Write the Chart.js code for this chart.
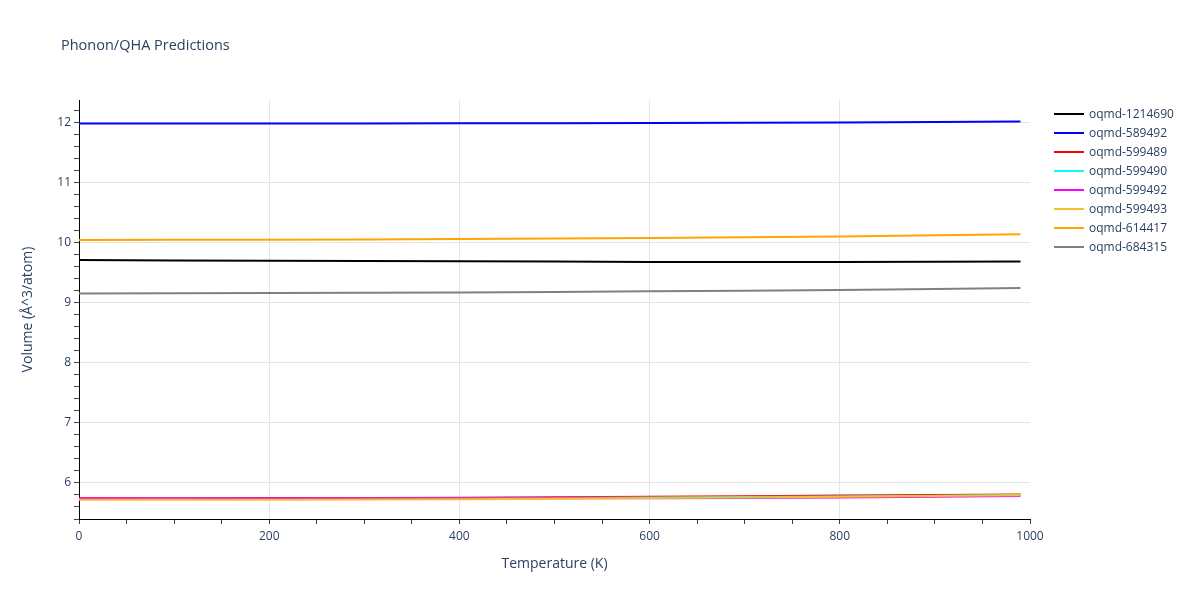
<!DOCTYPE html>
<html>
<head>
<meta charset="utf-8">
<script src="https://cdn.jsdelivr.net/npm/chart.js@4.4.0/dist/chart.umd.min.js"></script>
<style>
  html, body { margin: 0; padding: 0; background: #fff; }
  #wrap { position: relative; width: 1200px; height: 600px; font-family: "Open Sans", "DejaVu Sans", sans-serif; }
  #title { position: absolute; left: 61px; top: 35px; font-size: 14.5px; color: #2a3f5f; white-space: nowrap; }
  #legend { position: absolute; left: 1054px; top: 104px; }
  .item { height: 19px; display: flex; align-items: center; font-size: 12px; color: #2a3f5f; white-space: nowrap; }
  .sw { width: 30px; height: 2px; margin-right: 5px; }
  canvas { position: absolute; left: 0; top: 0; }
</style>
</head>
<body>
<div id="wrap">
  <canvas id="c" width="1200" height="600"></canvas>
  <div id="title">Phonon/QHA Predictions</div>
  <div id="legend"></div>
</div>
<script>
const temperatures = [0, 100, 200, 300, 400, 500, 600, 700, 800, 900, 990];
const seriesNames = ["oqmd-1214690", "oqmd-589492", "oqmd-599489", "oqmd-599490", "oqmd-599492", "oqmd-599493", "oqmd-614417", "oqmd-684315"];
const seriesColors = ["#000000", "#0000ff", "#ff0000", "#00ffff", "#ff00ff", "#f2c12e", "#ffa500", "#808080"];
const v1214690 = [9.715, 9.71, 9.705, 9.70, 9.695, 9.69, 9.685, 9.685, 9.685, 9.688, 9.69];
const v589492  = [11.99, 11.99, 11.992, 11.993, 11.995, 11.997, 12.0, 12.003, 12.01, 12.017, 12.025];
const v599489  = [5.745, 5.746, 5.748, 5.751, 5.755, 5.762, 5.77, 5.78, 5.79, 5.80, 5.81];
const v599490  = [5.735, 5.736, 5.737, 5.739, 5.743, 5.749, 5.757, 5.766, 5.776, 5.787, 5.799];
const v599492  = [5.74, 5.74, 5.741, 5.742, 5.743, 5.744, 5.746, 5.752, 5.76, 5.772, 5.785];
const v599493  = [5.72, 5.721, 5.722, 5.725, 5.73, 5.738, 5.748, 5.758, 5.77, 5.782, 5.795];
const v614417  = [10.05, 10.052, 10.055, 10.058, 10.065, 10.075, 10.085, 10.095, 10.11, 10.128, 10.145];
const v684315  = [9.16, 9.162, 9.165, 9.17, 9.175, 9.185, 9.195, 9.205, 9.218, 9.234, 9.25];
const seriesValues = [v1214690, v589492, v599489, v599490, v599492, v599493, v614417, v684315];
const xTickLabels = [0, 200, 400, 600, 800, 1000];
const yTickLabels = [6, 7, 8, 9, 10, 11, 12];

const n = seriesNames.length;
const datasets = seriesNames.map((name, i) => ({
  label: name,
  data: temperatures.map((t, j) => ({ x: t, y: seriesValues[i][j] })),
  borderColor: seriesColors[i],
  backgroundColor: seriesColors[i],
  borderWidth: 2,
  pointRadius: 0,
  tension: 0,
  fill: false,
  order: n - i
}));

const leg = document.getElementById('legend');
seriesNames.forEach((name, i) => {
  const d = document.createElement('div');
  d.className = 'item';
  d.innerHTML = '<div class="sw" style="background:' + seriesColors[i] + '"></div><span>' + name + '</span>';
  leg.appendChild(d);
});

const txt = '#2a3f5f';
const near = (v, arr) => arr.some(a => Math.abs(v - a) < 1e-6);

new Chart(document.getElementById('c'), {
  type: 'line',
  data: { datasets },
  options: {
    responsive: false,
    animation: false,
    devicePixelRatio: 1,
    layout: { padding: { left: 0, right: 170, top: 100, bottom: 0 } },
    plugins: { legend: { display: false }, tooltip: { enabled: false }, title: { display: false } },
    scales: {
      x: {
        type: 'linear',
        min: 0, max: 1000,
        afterFit: s => { s.height = 81; },
        ticks: {
          stepSize: 50,
          autoSkip: false,
          maxRotation: 0,
          padding: 5,
          color: txt,
          font: { family: '"Open Sans", sans-serif', size: 12 },
          callback: v => near(v, xTickLabels) ? String(Math.round(v)) : ''
        },
        grid: {
          color: ctx => (ctx.tick && near(ctx.tick.value, xTickLabels) && ctx.tick.value > 0 && ctx.tick.value < 1000) ? '#e5e5e5' : 'rgba(0,0,0,0)',
          lineWidth: 1,
          tickLength: 5,
          tickColor: '#444',
          drawTicks: true
        },
        border: { display: true, color: '#000', width: 1 },
        title: {
          display: true,
          text: 'Temperature (K)',
          color: txt,
          font: { family: '"Open Sans", sans-serif', size: 14 },
          padding: { top: 0, bottom: 28 }
        }
      },
      y: {
        type: 'linear',
        min: 5.4, max: 12.383,
        afterFit: s => { s.width = 79; },
        ticks: {
          stepSize: 0.2,
          includeBounds: false,
          autoSkip: false,
          padding: 3,
          color: txt,
          font: { family: '"Open Sans", sans-serif', size: 12 },
          callback: v => near(v, yTickLabels) ? String(Math.round(v)) : ''
        },
        grid: {
          color: ctx => (ctx.tick && near(ctx.tick.value, yTickLabels)) ? '#e5e5e5' : 'rgba(0,0,0,0)',
          lineWidth: 1,
          tickLength: 5,
          tickColor: '#444',
          drawTicks: true
        },
        border: { display: true, color: '#000', width: 1 },
        title: {
          display: true,
          text: 'Volume (Å^3/atom)',
          color: txt,
          font: { family: '"Open Sans", sans-serif', size: 14 },
          padding: { top: 20, bottom: 0 }
        }
      }
    }
  }
});
</script>
</body>
</html>
